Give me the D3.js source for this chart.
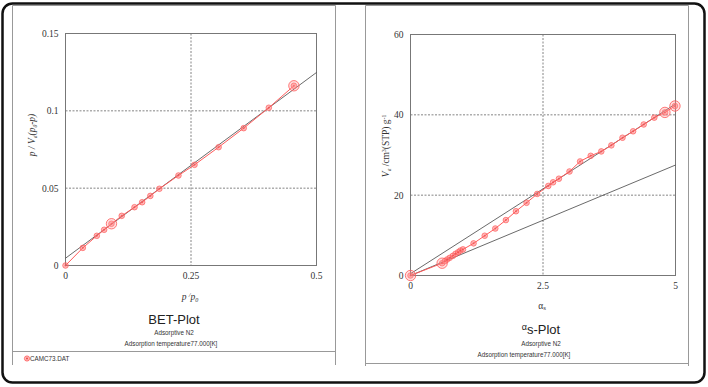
<!DOCTYPE html>
<html>
<head>
<meta charset="UTF-8">
<title>BET / alpha-s plot</title>
<script src="https://d3js.org/d3.v7.min.js"></script>
<style>
  body { margin: 0; background: #fff; }
  svg { display: block; }
  .tick-lbl { font-family: "Liberation Serif", serif; font-size: 9.5px; fill: #333; }
  .ax-lbl { font-family: "Liberation Serif", serif; font-style: italic; font-size: 9.5px; fill: #333; }
  .title { font-family: "Liberation Sans", Arial, sans-serif; font-size: 13px; fill: #222; }
  .sub { font-family: "Liberation Sans", Arial, sans-serif; font-size: 6.3px; fill: #333; }
</style>
</head>
<body>
<svg id="chart" width="708" height="387"></svg>
<script>
// BET plot data: p/p0 vs p/(Va(p0-p))
const betX = [0, 0.0345, 0.0624, 0.077, 0.0916, 0.112, 0.1375, 0.1527, 0.169, 0.187, 0.225, 0.257, 0.305, 0.355, 0.405, 0.455];
const betY = [0, 0.0114, 0.0192, 0.0231, 0.027, 0.0321, 0.0377, 0.0409, 0.045, 0.0496, 0.0582, 0.0651, 0.0765, 0.0888, 0.102, 0.1162];
const betBig = [4, 15];            // highlighted points (index)
const betFit = [[0, 0.0047], [0.5, 0.1248]];
const betXTicks = [0, 0.25, 0.5];
const betYTicks = [0, 0.05, 0.1, 0.15];

// alpha-s plot data: alpha_s vs Va
const asX = [0, 0.597, 0.648, 0.69, 0.74, 0.80, 0.85, 0.90, 0.94, 0.99, 1.19, 1.40, 1.60, 1.80, 1.99, 2.19, 2.39, 2.60, 2.69, 2.80, 3.00, 3.20, 3.40, 3.60, 3.79, 4.00, 4.20, 4.40, 4.60, 4.80, 4.99];
const asY = [0, 3.06, 3.57, 3.98, 4.4, 4.9, 5.4, 5.8, 6.2, 6.5, 8.0, 9.9, 11.7, 13.8, 16.0, 18.1, 20.3, 22.3, 23.2, 24.1, 25.9, 28.4, 29.8, 30.9, 32.4, 34.3, 35.9, 37.6, 39.3, 40.6, 42.2];
const asBig = [0, 1, 29, 30];
const asFitUpper = [[0, 0.45], [5, 42.7]];
const asFitLower = [[0, 0], [5, 27.5]];
const asXTicks = [0, 2.5, 5];
const asYTicks = [0, 20, 40, 60];

const svg = d3.select("#chart");
const red = "#ff5a5a";

// outer frame
svg.append("rect").attr("x", 2.5).attr("y", 3.5).attr("width", 702).attr("height", 379)
  .attr("rx", 10).attr("fill", "none").attr("stroke", "#111").attr("stroke-width", 2.5);

// panel frames
function panelFrame(x0, x1, sepY, bottom) {
  const g = svg.append("g").attr("stroke", "#999").attr("fill", "none");
  g.append("path").attr("d", `M${x0},${bottom}V5.5H${x1}V${bottom}`);
  g.append("line").attr("x1", x0).attr("x2", x1).attr("y1", sepY).attr("y2", sepY);
}
panelFrame(12.5, 335.5, 351.5, 365);
panelFrame(365.5, 688.5, 363.5, 366);

function plot(opt) {
  const x = d3.scaleLinear().domain(opt.xDomain).range([opt.left, opt.right]);
  const y = d3.scaleLinear().domain(opt.yDomain).range([opt.bottom, opt.top]);
  const g = svg.append("g");

  // grid
  g.selectAll(".gx").data(opt.xTicks.slice(1, -1)).enter().append("line")
    .attr("x1", d => x(d)).attr("x2", d => x(d)).attr("y1", opt.top).attr("y2", opt.bottom)
    .attr("stroke", "#666").attr("stroke-width", 0.8).attr("stroke-dasharray", "2,1.5");
  g.selectAll(".gy").data(opt.yTicks.slice(1, -1)).enter().append("line")
    .attr("y1", d => y(d)).attr("y2", d => y(d)).attr("x1", opt.left).attr("x2", opt.right)
    .attr("stroke", "#666").attr("stroke-width", 0.8).attr("stroke-dasharray", "2,1.5");

  // frame
  g.append("rect").attr("x", opt.left).attr("y", opt.top)
    .attr("width", opt.right - opt.left).attr("height", opt.bottom - opt.top)
    .attr("fill", "none").attr("stroke", "#777").attr("stroke-width", 1);

  // tick labels
  g.selectAll(".tx").data(opt.xTicks).enter().append("text").attr("class", "tick-lbl")
    .attr("x", d => x(d)).attr("y", opt.bottom + 13).attr("text-anchor", "middle").text(d => d);
  g.selectAll(".ty").data(opt.yTicks).enter().append("text").attr("class", "tick-lbl")
    .attr("x", opt.left - 7).attr("y", d => y(d) + 3.5).attr("text-anchor", "end").text(d => d);

  // fit lines
  const line = d3.line().x(d => x(d[0])).y(d => y(d[1]));
  opt.fits.forEach(f => g.append("path").attr("d", line(f))
    .attr("fill", "none").attr("stroke", "#444").attr("stroke-width", 0.8));

  // data line + markers
  const pts = opt.xs.map((v, i) => [v, opt.ys[i]]);
  g.append("path").attr("d", line(pts)).attr("fill", "none").attr("stroke", red).attr("stroke-width", 1);
  g.selectAll(".m").data(pts).enter().append("circle")
    .attr("cx", d => x(d[0])).attr("cy", d => y(d[1])).attr("r", 2.8)
    .attr("fill", "rgba(255,120,120,0.5)").attr("stroke", red).attr("stroke-width", 0.7);
  g.selectAll(".md").data(pts).enter().append("circle")
    .attr("cx", d => x(d[0])).attr("cy", d => y(d[1])).attr("r", 1)
    .attr("fill", "#f04848").attr("opacity", 0.7);
  g.selectAll(".mb").data(opt.big.map(i => pts[i])).enter().append("circle")
    .attr("cx", d => x(d[0])).attr("cy", d => y(d[1])).attr("r", 5.2)
    .attr("fill", "rgba(255,150,150,0.3)").attr("stroke", red).attr("stroke-width", 0.8);
  return { x, y };
}

// ---- BET plot
plot({
  xDomain: [0, 0.5], yDomain: [0, 0.15], left: 65.5, right: 316.5, top: 33.5, bottom: 265.5,
  xTicks: betXTicks, yTicks: betYTicks, fits: [betFit],
  xs: betX, ys: betY, big: betBig
});

// x label p /p0
const bxl = svg.append("text").attr("class", "ax-lbl").attr("x", 190).attr("y", 300).attr("text-anchor", "middle");
bxl.append("tspan").text("p ");
bxl.append("tspan").attr("font-size", "6.5px").attr("dy", -3).text("/");
bxl.append("tspan").attr("dy", 3).text("p");
bxl.append("tspan").attr("font-size", "6px").attr("dy", 2).text("0");

// y label p / Va(p0-p)
const byl = svg.append("text").attr("class", "ax-lbl").attr("font-size", "8.5px")
  .attr("transform", "translate(35,135) rotate(-90)").attr("text-anchor", "middle");
byl.append("tspan").text("p / V");
byl.append("tspan").attr("font-size", "5.5px").attr("dy", 2).text("a");
byl.append("tspan").attr("dy", -2).text("(p");
byl.append("tspan").attr("font-size", "5.5px").attr("dy", 2).text("0");
byl.append("tspan").attr("dy", -2).text("-p)");

svg.append("text").attr("class", "title").attr("x", 174).attr("y", 324).attr("text-anchor", "middle").text("BET-Plot");
svg.append("text").attr("class", "sub").attr("x", 174).attr("y", 334.5).attr("text-anchor", "middle").text("Adsorptive N2");
svg.append("text").attr("class", "sub").attr("x", 171).attr("y", 345.5).attr("text-anchor", "middle").text("Adsorption temperature77.000[K]");

// legend
svg.append("circle").attr("cx", 27).attr("cy", 358.5).attr("r", 2.6)
  .attr("fill", "rgba(255,120,120,0.5)").attr("stroke", red).attr("stroke-width", 0.8);
svg.append("circle").attr("cx", 27).attr("cy", 358.5).attr("r", 1).attr("fill", "#f04848");
svg.append("text").attr("class", "sub").attr("x", 30).attr("y", 360.5).text("CAMC73.DAT");

// ---- alpha-s plot
plot({
  xDomain: [0, 5], yDomain: [0, 60], left: 410.5, right: 675.5, top: 34.5, bottom: 275.5,
  xTicks: asXTicks, yTicks: asYTicks, fits: [asFitUpper, asFitLower],
  xs: asX, ys: asY, big: asBig
});

const axl = svg.append("text").attr("class", "tick-lbl").attr("x", 542).attr("y", 309).attr("text-anchor", "middle");
axl.append("tspan").attr("font-size", "9.5px").text("α");
axl.append("tspan").attr("font-size", "7px").attr("dy", 1).text("s");

// y label Va /cm3(STP) g-1
const ayl = svg.append("text").attr("class", "ax-lbl").attr("font-size", "8px")
  .attr("transform", "translate(389,146) rotate(-90)").attr("text-anchor", "middle");
ayl.append("tspan").text("V");
ayl.append("tspan").attr("font-size", "5.5px").attr("dy", 2).text("a");
ayl.append("tspan").attr("dy", -2).attr("font-style", "normal").text(" /cm");
ayl.append("tspan").attr("font-size", "5.5px").attr("dy", -3).attr("font-style", "normal").text("3");
ayl.append("tspan").attr("dy", 3).attr("font-style", "normal").text("(STP) g");
ayl.append("tspan").attr("font-size", "5.5px").attr("dy", -3).attr("font-style", "normal").text("-1");

const at = svg.append("text").attr("class", "title").attr("x", 541).attr("y", 334).attr("text-anchor", "middle");
at.append("tspan").attr("font-size", "9px").attr("dy", -4).text("α");
at.append("tspan").attr("dy", 4).text("s-Plot");
svg.append("text").attr("class", "sub").attr("x", 541).attr("y", 345.5).attr("text-anchor", "middle").text("Adsorptive N2");
svg.append("text").attr("class", "sub").attr("x", 524).attr("y", 357).attr("text-anchor", "middle").text("Adsorption temperature77.000[K]");
</script>
</body>
</html>
